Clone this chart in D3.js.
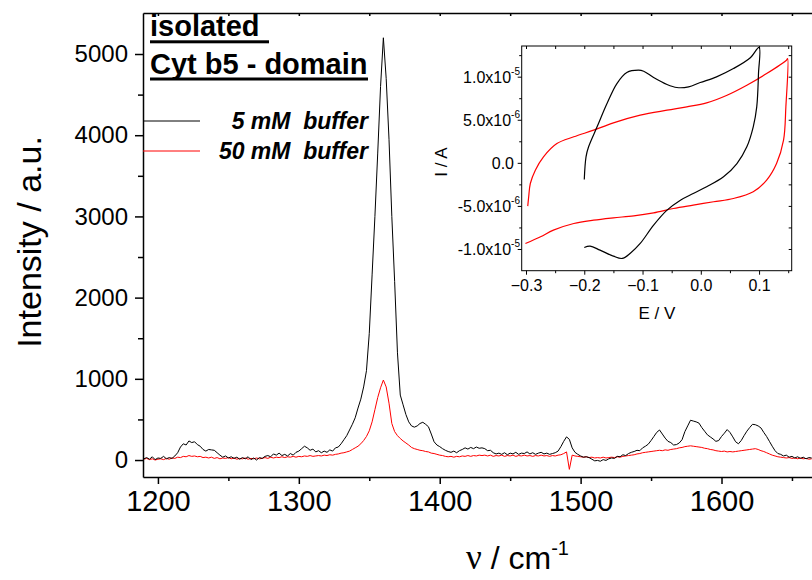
<!DOCTYPE html>
<html>
<head>
<meta charset="utf-8">
<script src="https://cdn.jsdelivr.net/npm/d3@7"></script>
<style>
  body { margin: 0; background: #fff; }
  svg { display: block; }
  text { font-family: "Liberation Sans", Arial, sans-serif; }
</style>
</head>
<body>
<svg width="812" height="580"></svg>
<script>
// Raman spectra (a.u.), one value every 2 cm-1 from 1190 to 1664
const wavenumbers = d3.range(1190, 1665, 2);

const buffer5mM = [
  15, 30, 10, 40, 5, 25, 20, 45, 15, 30,            // 1190
  20, 50, 90, 160, 200, 185, 235, 215, 225, 190,    // 1210
  170, 130, 110, 130, 125, 120, 90, 60, 35, 50,     // 1230
  25, 40, 20, 35, 10, 30, 15, 40, 5, 25,            // 1250
  0, 30, 20, 45, 55, 40, 75, 60, 85, 55,            // 1270
  70, 50, 80, 60, 95, 110, 140, 170, 150, 120,      // 1290
  135, 100, 115, 90, 110, 95, 125, 110, 150, 160,   // 1310
  200, 250, 300, 370, 440, 520, 640, 750, 900, 1100, // 1330
  1560, 2280, 3000, 3780, 4600, 5200, 4700, 3950, 3000, 2200, // 1350
  1320, 800, 680, 560, 470, 420, 405, 420, 450, 465, // 1370
  440, 410, 320, 225, 185, 165, 140, 120, 105, 95,  // 1390
  110, 90, 115, 130, 150, 135, 155, 140, 160, 145,  // 1410
  150, 140, 115, 120, 90, 75, 85, 70, 90, 65,       // 1430
  85, 75, 95, 70, 85, 80, 100, 75, 90, 70,          // 1450
  85, 95, 75, 85, 70, 80, 90, 110, 165, 230,        // 1470
  285, 255, 150, 95, 70, 50, 35, 40, 30, 10,        // 1490
  -10, -5, -15, 5, -5, 15, 25, 20, 45, 40,          // 1510
  65, 55, 80, 95, 105, 120, 115, 150, 170, 195,     // 1530
  240, 290, 340, 370, 320, 270, 230, 215, 185, 190, // 1550
  210, 250, 350, 420, 490, 480, 470, 455, 400, 355, // 1570
  310, 285, 260, 230, 240, 290, 330, 375, 340, 285, // 1590
  225, 200, 240, 300, 355, 400, 440, 435, 420, 395, // 1610
  340, 290, 230, 170, 115, 80, 70, 50, 60, 35,      // 1630
  45, 25, 40, 20, 35, 15, 30, 25                    // 1650
];

const buffer50mM = [
  10, 20, 5, 15, 0, 10, 15, 5, 20, 10,              // 1190
  25, 20, 35, 30, 45, 40, 55, 45, 50, 40,           // 1210
  45, 30, 35, 25, 35, 20, 30, 15, 25, 20,           // 1230
  30, 15, 25, 10, 20, 15, 25, 10, 20, 15,           // 1250
  25, 15, 20, 30, 20, 35, 25, 35, 30, 40,           // 1270
  30, 40, 35, 45, 35, 45, 40, 50, 45, 55,           // 1290
  45, 50, 55, 50, 60, 55, 65, 60, 70, 75,           // 1310
  85, 90, 100, 110, 130, 150, 170, 200, 240, 290,   // 1330
  360, 470, 620, 770, 890, 985, 900, 700, 450, 350, // 1350
  300, 265, 235, 210, 185, 155, 140, 130, 120, 115, // 1370
  105, 100, 85, 80, 70, 60, 55, 45, 40, 45,         // 1390
  35, 45, 40, 50, 45, 55, 45, 55, 50, 60,           // 1410
  55, 60, 50, 60, 45, 55, 50, 60, 45, 55,           // 1430
  50, 60, 45, 55, 50, 60, 50, 55, 45, 55,           // 1450
  50, 60, 50, 55, 45, 55, 50, 60, 65, 80,           // 1470
  100, -115, 60, 50, 45, 40, 35, 40, 30, 35,        // 1490
  25, 30, 25, 35, 25, 30, 35, 30, 40, 35,           // 1510
  45, 50, 55, 60, 65, 75, 80, 90, 95, 100,          // 1530
  105, 110, 115, 120, 115, 125, 120, 130, 135, 140, // 1550
  150, 155, 165, 170, 175, 170, 165, 160, 155, 145, // 1570
  140, 130, 125, 115, 110, 105, 110, 100, 105, 100, // 1590
  105, 110, 115, 120, 125, 130, 135, 140, 130, 115, // 1610
  105, 90, 75, 60, 50, 40, 35, 30, 25, 30,          // 1630
  20, 25, 15, 25, 15, 20, 10, 15                    // 1650
];

const xTicks = [1200, 1300, 1400, 1500, 1600];
const xMinor = [1250, 1350, 1450, 1550, 1650];
const yTicks = [0, 1000, 2000, 3000, 4000, 5000];
const yMinor = [500, 1500, 2500, 3500, 4500];

// inset: cyclic voltammograms, [E (V), I (1e-6 A)]
const cv5mM = [
  [-0.2, -1.93], [-0.197, 0.7], [-0.1926, 1.86], [-0.178, 4.18], [-0.161, 6.88],
  [-0.144, 9.2], [-0.127, 10.48], [-0.107, 10.75], [-0.098, 10.63], [-0.081, 9.9],
  [-0.058, 9.09], [-0.041, 8.74], [-0.021, 8.82], [-0.001, 9.32], [0.027, 9.98],
  [0.056, 10.94], [0.085, 12.2], [0.1, 13.4], [0.099, 10.36], [0.096, 6.5],
  [0.09, 4.18], [0.079, 1.86], [0.062, -0.08], [0.039, -1.62], [0.01, -2.78],
  [-0.013, -3.56], [-0.035, -4.33], [-0.058, -5.49], [-0.081, -7.23], [-0.104, -9.36],
  [-0.121, -10.5], [-0.135, -11.1], [-0.15, -10.83], [-0.173, -10.13], [-0.19, -9.67],
  [-0.2, -9.82]
];
const cv50mM = [
  [-0.297, -5.03], [-0.2954, -3.94], [-0.2926, -2.4], [-0.284, -0.85], [-0.27, 0.7],
  [-0.247, 2.24], [-0.218, 3.02], [-0.184, 3.79], [-0.15, 4.64], [-0.104, 5.53],
  [-0.058, 6.11], [-0.024, 6.5], [0.01, 6.96], [0.045, 7.85], [0.079, 9.01],
  [0.113, 10.36], [0.147, 11.91], [0.149, 12.1], [0.146, 6.5], [0.142, 2.63],
  [0.13, -0.08], [0.113, -2.01], [0.09, -3.36], [0.056, -4.14], [0.022, -4.52],
  [-0.013, -4.91], [-0.047, -5.3], [-0.081, -5.8], [-0.115, -6.15], [-0.15, -6.38],
  [-0.184, -6.65], [-0.218, -7.04], [-0.253, -7.81], [-0.275, -8.58], [-0.301, -9.36]
];
const insetXTicks = [-0.3, -0.2, -0.1, 0.0, 0.1];
const insetXMinor = [-0.25, -0.15, -0.05, 0.05, 0.15];
const insetYTicks = [-10, -5, 0, 5, 10];
const insetYMinor = [-7.5, -2.5, 2.5, 7.5, 12.5];
const insetYLabels = [["-1.0x10", "-5"], ["-5.0x10", "-6"], ["0.0", ""], ["5.0x10", "-6"], ["1.0x10", "-5"]];

const svg = d3.select("svg");

// ---------- main plot ----------
const x = d3.scaleLinear().domain([1189.4, 1677]).range([143, 830]);
const y = d3.scaleLinear().domain([-209, 5505]).range([477, 13]);

const line = d3.line().x(d => x(d[0])).y(d => y(d[1]));

svg.append("path")
    .datum(wavenumbers.map((w, i) => [w, buffer50mM[i]]))
    .attr("fill", "none").attr("stroke", "#ff0000").attr("stroke-width", 1)
    .attr("d", line);

svg.append("path")
    .datum(wavenumbers.map((w, i) => [w, buffer5mM[i]]))
    .attr("fill", "none").attr("stroke", "#000").attr("stroke-width", 1)
    .attr("d", line);

function styleAxis(g, size) {
    g.select(".domain").attr("stroke-width", 1.5);
    g.selectAll(".tick line").attr("stroke-width", 1.5);
    g.selectAll("text").attr("font-size", size).attr("fill", "#000")
        .attr("font-family", "'Liberation Sans', Arial, sans-serif");
}

svg.append("g").attr("transform", "translate(0,477)")
    .call(d3.axisBottom(x).tickValues(xTicks).tickSize(7).tickSizeOuter(0).tickPadding(6).tickFormat(d3.format("d")))
    .call(g => styleAxis(g, 29));
svg.append("g").attr("transform", "translate(0,477)")
    .call(d3.axisBottom(x).tickValues(xMinor).tickSize(4).tickFormat(""))
    .call(g => { g.select(".domain").remove(); styleAxis(g, 0); });

svg.append("g").attr("transform", "translate(143,0)")
    .call(d3.axisLeft(y).tickValues(yTicks).tickSize(8).tickSizeOuter(0).tickPadding(7).tickFormat(d3.format("d")))
    .call(g => styleAxis(g, 24));
svg.append("g").attr("transform", "translate(143,0)")
    .call(d3.axisLeft(y).tickValues(yMinor).tickSize(5).tickFormat(""))
    .call(g => { g.select(".domain").remove(); styleAxis(g, 0); });

// top frame with inward ticks
svg.append("g").attr("transform", "translate(0,13)")
    .call(d3.axisTop(x).tickValues(xTicks.concat(xMinor)).tickSize(-3).tickSizeOuter(0).tickFormat(""))
    .call(g => styleAxis(g, 0));

svg.append("text")
    .attr("transform", "translate(41,242) rotate(-90)")
    .attr("text-anchor", "middle")
    .attr("font-size", 34)
    .text("Intensity / a.u.");

const xTitle = svg.append("text")
    .attr("x", 466).attr("y", 569)
    .attr("font-size", 32);
xTitle.append("tspan").attr("font-family", "'Liberation Serif', serif").attr("font-size", 35).text("\u03bd");
xTitle.append("tspan").text(" / cm");
xTitle.append("tspan").attr("font-size", 20).attr("dy", -14).text("-1");

// title
svg.append("text").attr("x", 150).attr("y", 36)
    .attr("font-size", 29).attr("font-weight", "bold").text("isolated");
svg.append("rect").attr("x", 150).attr("y", 40.3).attr("width", 119).attr("height", 3);
svg.append("text").attr("x", 150).attr("y", 74)
    .attr("font-size", 29).attr("font-weight", "bold").text("Cyt b5 - domain");
svg.append("rect").attr("x", 150).attr("y", 77.5).attr("width", 218).attr("height", 3);

// legend
const legend = [
    { label: "5 mM\u00a0\u00a0buffer", color: "#000", y: 121 },
    { label: "50 mM\u00a0\u00a0buffer", color: "#ff0000", y: 151 }
];
legend.forEach(d => {
    svg.append("line").attr("x1", 143).attr("x2", 200).attr("y1", d.y).attr("y2", d.y)
        .attr("stroke", d.color).attr("stroke-width", 1);
    svg.append("text").attr("x", 368).attr("y", d.y + 7.5)
        .attr("text-anchor", "end").attr("font-size", 23)
        .attr("font-weight", "bold").attr("font-style", "italic")
        .text(d.label);
});

// ---------- inset ----------
const ix = d3.scaleLinear().domain([-0.3074, 0.156]).range([521.7, 791.7]);
const iy = d3.scaleLinear().domain([-12.52, 13.56]).range([270.7, 46]);

const cvLine = d3.line().x(d => ix(d[0])).y(d => iy(d[1])).curve(d3.curveCatmullRom.alpha(0.5));

svg.append("rect").attr("x", 521.7).attr("y", 46).attr("width", 270).attr("height", 224.7)
    .attr("fill", "#fff").attr("stroke", "#000").attr("stroke-width", 1);

svg.append("path").datum(cv50mM)
    .attr("fill", "none").attr("stroke", "#ff0000").attr("stroke-width", 1.2).attr("d", cvLine);
svg.append("path").datum(cv5mM)
    .attr("fill", "none").attr("stroke", "#000").attr("stroke-width", 1.2).attr("d", cvLine);

function styleInset(g) {
    g.select(".domain").remove();
    g.selectAll(".tick line").attr("stroke-width", 1);
    g.selectAll("text").attr("font-size", 16).attr("fill", "#000")
        .attr("font-family", "'Liberation Sans', Arial, sans-serif");
}

svg.append("g").attr("transform", "translate(0,270.7)")
    .call(d3.axisBottom(ix).tickValues(insetXTicks).tickSize(4).tickPadding(5).tickFormat(d3.format(".1f")))
    .call(styleInset);
svg.append("g").attr("transform", "translate(0,270.7)")
    .call(d3.axisBottom(ix).tickValues(insetXMinor.filter(v => v < 0.156)).tickSize(2.5).tickFormat(""))
    .call(styleInset);
svg.append("g").attr("transform", "translate(0,46)")
    .call(d3.axisTop(ix).tickValues(insetXTicks.concat(insetXMinor.filter(v => v < 0.156))).tickSize(-3).tickFormat(""))
    .call(styleInset);

svg.append("g").attr("transform", "translate(521.7,0)")
    .call(d3.axisLeft(iy).tickValues(insetYTicks).tickSize(4).tickFormat(""))
    .call(styleInset);
svg.append("g").attr("transform", "translate(521.7,0)")
    .call(d3.axisLeft(iy).tickValues(insetYMinor.filter(v => v < 13.56)).tickSize(2.5).tickFormat(""))
    .call(styleInset);
svg.append("g").attr("transform", "translate(791.7,0)")
    .call(d3.axisRight(iy).tickValues(insetYTicks.concat(insetYMinor.filter(v => v < 13.56))).tickSize(-3).tickFormat(""))
    .call(styleInset);

insetYTicks.forEach((v, i) => {
    const [base, exp] = insetYLabels[i];
    const t = svg.append("text")
        .attr("x", exp ? 520 : 514).attr("y", iy(v) + 6)
        .attr("text-anchor", "end").attr("font-size", 16);
    t.append("tspan").text(base);
    if (exp) t.append("tspan").attr("font-size", 10).attr("dy", -8).text(exp);
});

svg.append("text").attr("x", 657).attr("y", 319)
    .attr("text-anchor", "middle").attr("font-size", 17).text("E / V");
svg.append("text")
    .attr("transform", "translate(447,162) rotate(-90)")
    .attr("text-anchor", "middle").attr("font-size", 17).text("I / A");
</script>
</body>
</html>
